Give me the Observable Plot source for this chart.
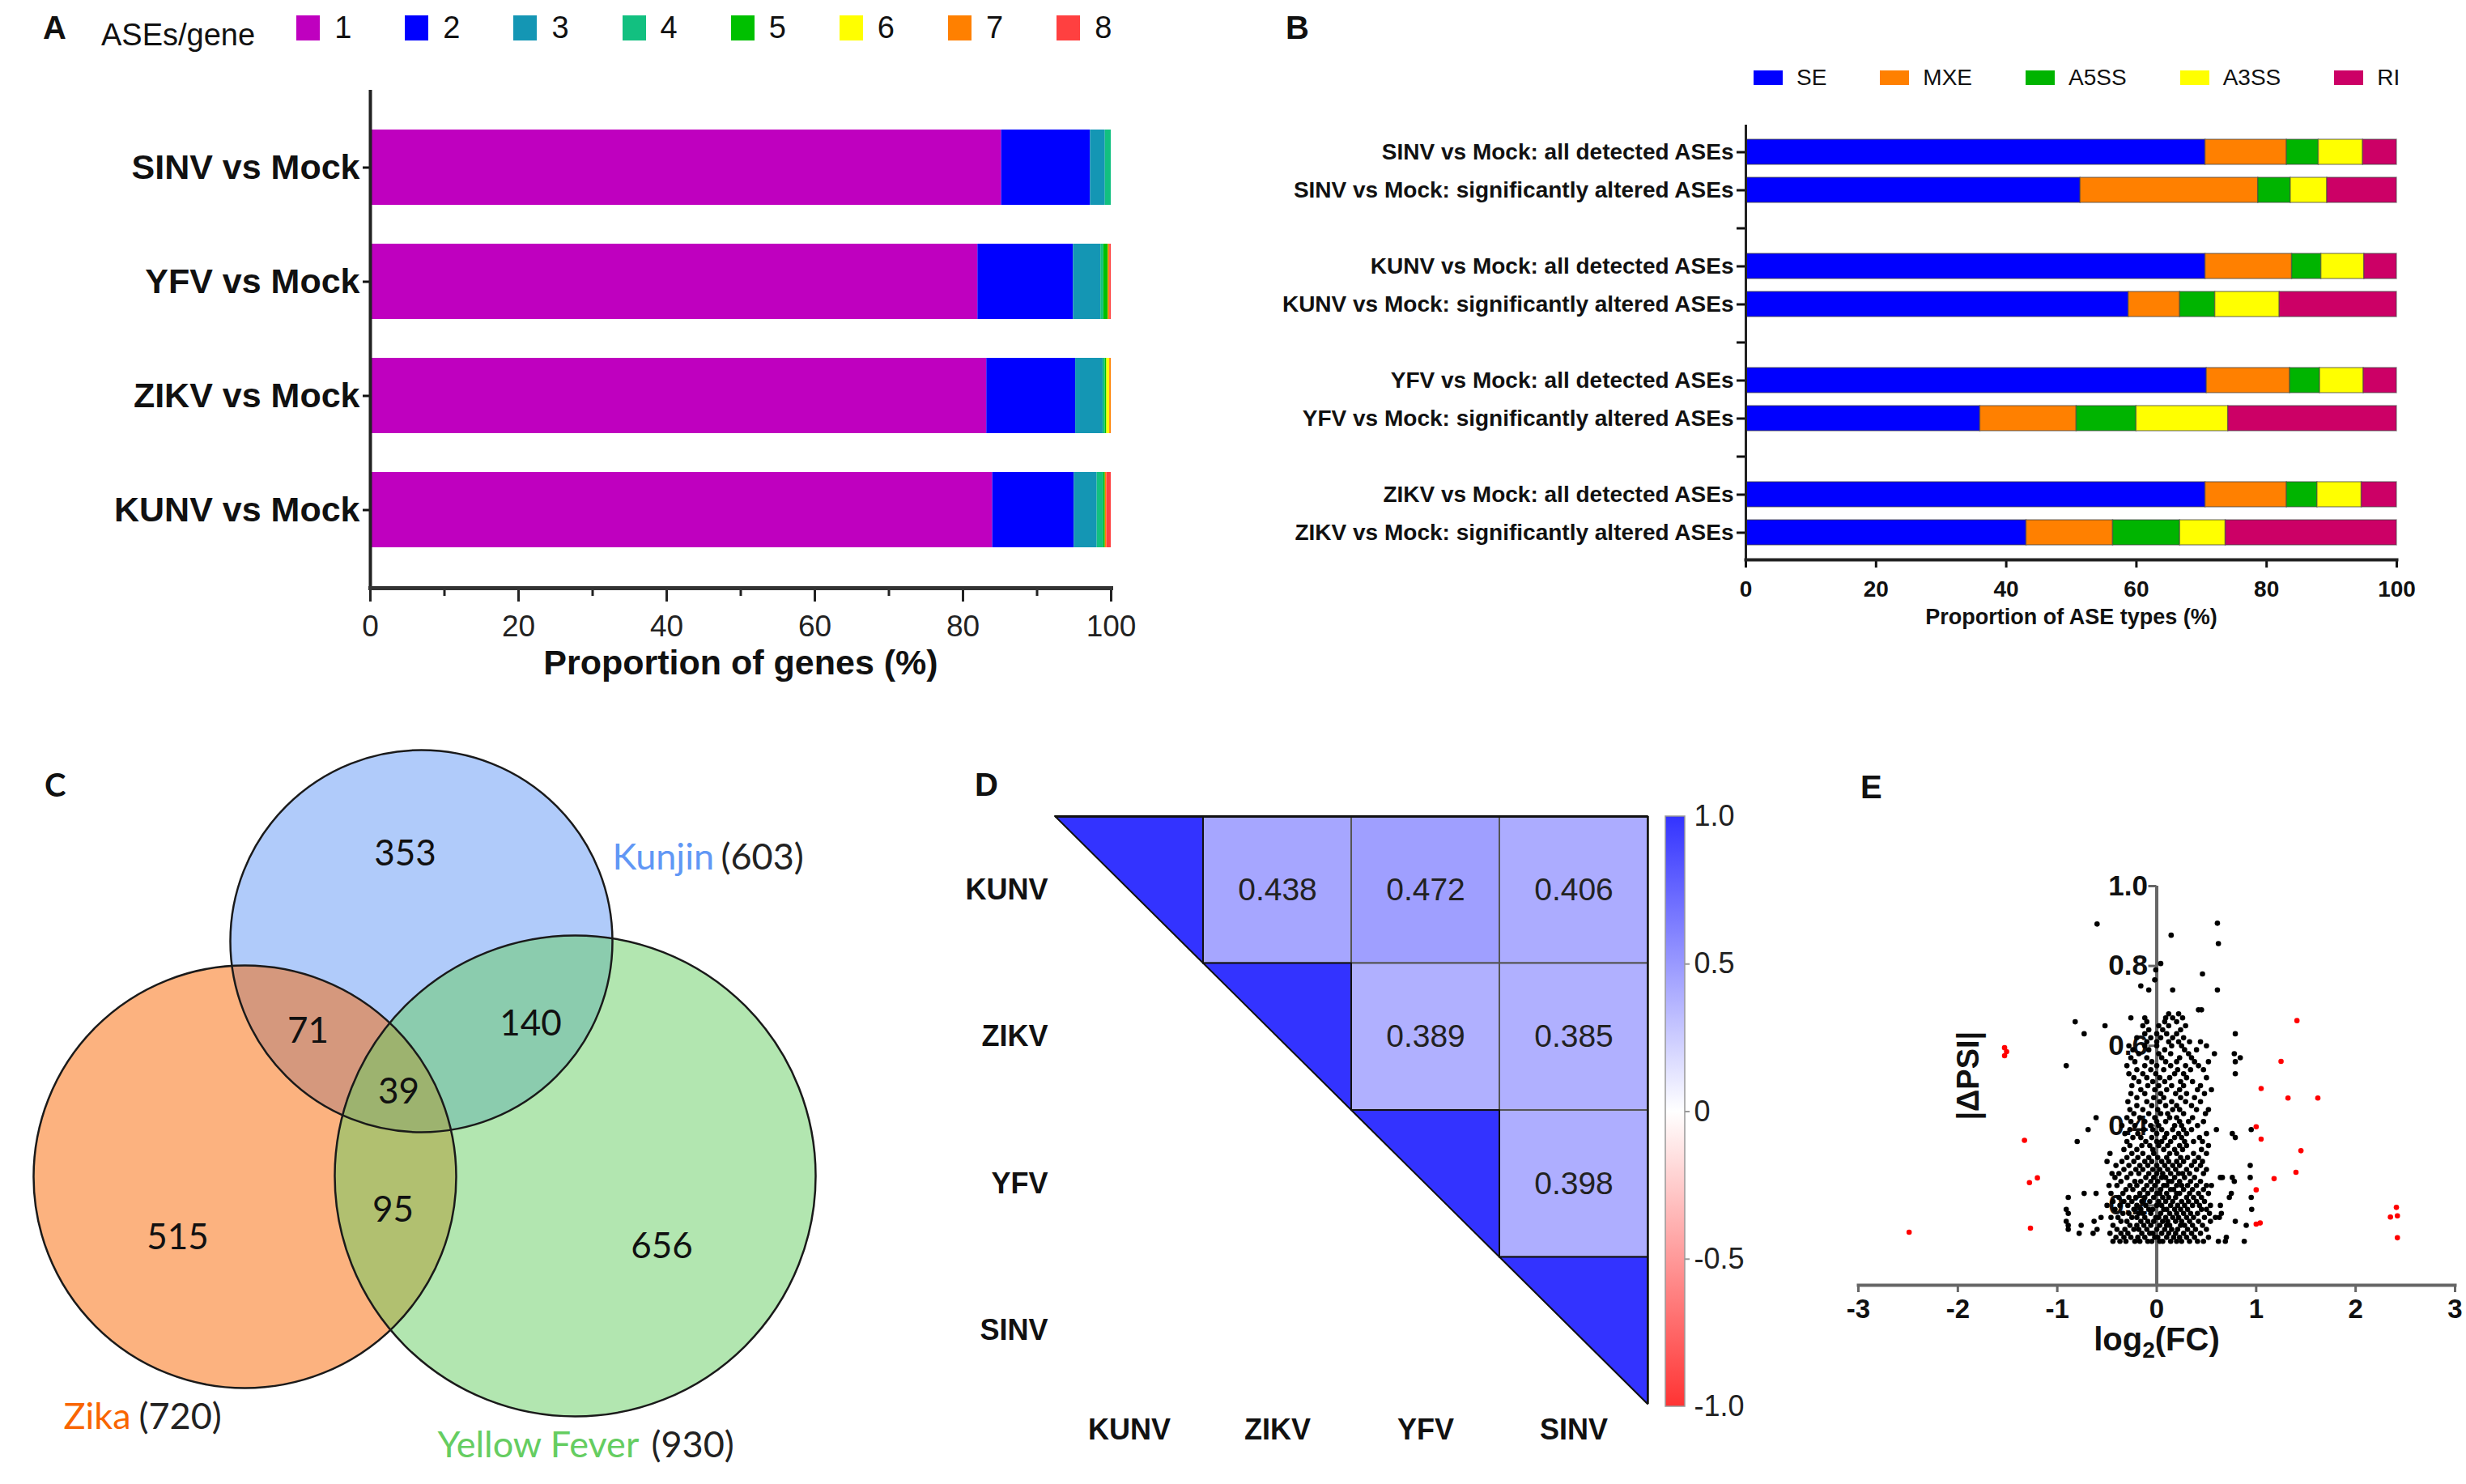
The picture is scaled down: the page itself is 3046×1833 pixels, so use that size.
<!DOCTYPE html>
<html><head><meta charset="utf-8">
<script src="https://cdn.jsdelivr.net/npm/d3@7"></script>
<script src="https://cdn.jsdelivr.net/npm/@observablehq/plot@0.6"></script>
<style>
html,body{margin:0;padding:0;background:#fff;}
#root{position:relative;width:3046px;height:1833px;overflow:hidden;font-family:"Liberation Sans",Arial,sans-serif;color:#111;}
.panel{position:absolute;}
.panel svg{overflow:visible;max-width:none;}
.leg{position:absolute;display:flex;align-items:center;white-space:nowrap;}
.sw{display:inline-block;}
</style></head>
<body><div id="root"></div>
<script>
// ---------------- DATA ----------------
// Panel A
const aConditions = ["SINV vs Mock", "YFV vs Mock", "ZIKV vs Mock", "KUNV vs Mock"];
const aseCounts = ["1", "2", "3", "4", "5", "6", "7", "8"];
const aColors = ["#bf00bf", "#0000ff", "#1496b4", "#12c080", "#00c000", "#ffff00", "#ff8000", "#ff4040"];
const aSINV = [85.2, 12.0, 2.0, 0.8, 0, 0, 0, 0];
const aYFV  = [82.0, 12.9, 3.7, 0.4, 0.6, 0, 0.2, 0.2];
const aZIKV = [83.2, 12.0, 3.7, 0.3, 0.2, 0.4, 0.2, 0];
const aKUNV = [84.0, 11.0, 3.1, 0.9, 0.2, 0, 0.2, 0.6];
const aTicks = [0, 20, 40, 60, 80, 100];
const aMinorTicks = [10, 30, 50, 70, 90];

// Panel B
const bTypes = ["SE", "MXE", "A5SS", "A3SS", "RI"];
const bColors = ["#0000ff", "#ff8000", "#00b400", "#ffff00", "#cc0066"];
const bRows = [
  "SINV vs Mock: all detected ASEs", "SINV vs Mock: significantly altered ASEs", "gap1",
  "KUNV vs Mock: all detected ASEs", "KUNV vs Mock: significantly altered ASEs", "gap2",
  "YFV vs Mock: all detected ASEs", "YFV vs Mock: significantly altered ASEs", "gap3",
  "ZIKV vs Mock: all detected ASEs", "ZIKV vs Mock: significantly altered ASEs"
];
const bSINVall = [70.6, 12.5, 4.9, 6.8, 5.2];
const bSINVsig = [51.4, 27.3, 5.0, 5.6, 10.7];
const bKUNVall = [70.6, 13.3, 4.5, 6.6, 5.0];
const bKUNVsig = [58.8, 7.9, 5.4, 9.9, 18.0];
const bYFVall  = [70.8, 12.8, 4.6, 6.7, 5.1];
const bYFVsig  = [36.0, 14.8, 9.2, 14.1, 25.9];
const bZIKVall = [70.6, 12.5, 4.7, 6.8, 5.4];
const bZIKVsig = [43.1, 13.3, 10.3, 7.0, 26.3];
const bTicks = [0, 20, 40, 60, 80, 100];

// Panel C (Venn)
const vennSets = ["Kunjin", "Zika", "Yellow Fever"];
const vennTotals = [603, 720, 930];
const vennColors = ["#6197f5", "#f96500", "#65cd61"];
const vennCounts = [353, 71, 140, 39, 95, 515, 656];

// Panel D (correlation)
const dNames = ["KUNV", "ZIKV", "YFV", "SINV"];
const dCorr = [
  [1, 0.438, 0.472, 0.406],
  [0.438, 1, 0.389, 0.385],
  [0.472, 0.389, 1, 0.398],
  [0.406, 0.385, 0.398, 1]
];
const dColorDomain = [-1, 0, 1];
const dColorRange = ["#ff3333", "#ffffff", "#3333ff"];
const dLegendTicks = [1, 0.5, 0, -0.5, -1];

// Panel E (scatter): [x = log2(FC), y = |dPSI|]
const eRed = [[1.41,0.663],[-1.53,0.595],[-1.51,0.585],[-1.53,0.575],[1.25,0.561],[1.05,0.493],[1.32,0.469],[1.62,0.469],[1.0,0.397],[1.05,0.366],[-1.33,0.363],[1.45,0.337],[1.4,0.283],[1.18,0.267],[-1.2,0.269],[-1.28,0.257],[1.0,0.239],[2.41,0.195],[2.35,0.171],[2.42,0.174],[2.42,0.119],[1.0,0.153],[1.04,0.156],[-1.27,0.143],[-2.49,0.133]];
const eBlackRows = [
[0.11,[-0.44,-0.37,-0.31,-0.22,-0.17,-0.09,-0.05,0.03,0.06,0.14,0.2,0.25,0.33,0.41,0.47,0.62,0.69,0.88]],
[0.12,[-0.41,-0.33,-0.26,-0.19,-0.12,-0.02,0.01,0.1,0.17,0.23,0.3,0.38,0.52,0.7]],
[0.13,[-0.47,-0.36,-0.29,-0.15,-0.07,-0.04,0.05,0.12,0.19,0.27,0.35,0.44,-0.64,-0.78]],
[0.14,[-0.4,-0.32,-0.23,-0.18,-0.1,0.0,0.08,0.15,0.21,0.31,0.39,0.5,-0.89,-0.6]],
[0.15,[-0.44,-0.27,-0.2,-0.13,-0.06,0.03,0.1,0.13,0.24,0.28,0.36,0.46,0.9,-0.89,-0.76]],
[0.16,[-0.36,-0.3,-0.16,-0.09,-0.03,0.06,0.11,0.19,0.25,0.33,0.42,0.79,0.54,-0.63,-0.91]],
[0.17,[-0.46,-0.39,-0.25,-0.2,-0.12,-0.01,0.02,0.09,0.16,0.22,0.3,0.37,0.48,0.63,-0.56,0.59]],
[0.18,[-0.34,-0.28,-0.18,-0.14,-0.06,0.04,0.13,0.2,0.27,0.34,0.41,0.53,-0.89,0.65]],
[0.19,[-0.42,-0.23,-0.16,-0.08,-0.04,0.07,0.1,0.18,0.24,0.31,0.45,0.955,0.5,-0.91]],
[0.20,[-0.37,-0.29,-0.2,-0.11,0.0,0.05,0.14,0.21,0.28,0.36,0.43,-0.5,0.64,0.54]],
[0.21,[-0.44,-0.33,-0.25,-0.15,-0.07,0.02,0.09,0.16,0.25,0.32,0.4,0.48]],
[0.22,[-0.38,-0.28,-0.21,-0.12,-0.03,0.06,0.12,0.19,0.3,0.37,0.45,-0.89,0.73,0.95]],
[0.23,[-0.46,-0.34,-0.17,-0.09,0.0,0.03,0.1,0.2,0.23,0.33,0.42,0.52,-0.73,-0.61,0.75]],
[0.24,[-0.31,-0.24,-0.13,-0.05,0.04,0.14,0.17,0.27,0.36,0.47]],
[0.25,[-0.48,-0.4,-0.27,-0.2,-0.1,-0.02,0.07,0.1,0.2,0.25,0.31,0.4,0.5,0.55]],
[0.26,[-0.36,-0.22,-0.16,-0.06,0.01,0.12,0.15,0.23,0.34,0.44,0.78]],
[0.27,[-0.42,-0.3,-0.11,-0.03,0.05,0.09,0.18,0.28,0.38,0.66,0.94,0.76,0.64]],
[0.28,[-0.45,-0.38,-0.26,-0.18,-0.08,0.0,0.06,0.14,0.22,0.26,0.33,0.47]],
[0.29,[-0.33,-0.21,-0.14,-0.04,0.03,0.11,0.19,0.3,0.4,0.5]],
[0.30,[-0.41,-0.28,-0.17,-0.09,0.0,0.08,0.16,0.23,0.35,0.44,0.94]],
[0.31,[-0.5,-0.35,-0.23,-0.12,-0.05,0.05,0.12,0.2,0.27,0.38,0.46]],
[0.32,[-0.3,-0.19,-0.08,0.01,0.1,0.24,0.31,0.42]],
[0.33,[-0.47,-0.25,-0.14,-0.03,0.13,0.2,0.37,0.5]],
[0.34,[-0.33,-0.2,-0.04,0.07,0.18,0.26,0.45]],
[0.35,[-0.27,-0.15,-0.07,0.02,0.11,0.23,0.3,0.52]],
[0.36,[-0.3,-0.11,0.0,0.05,0.14,0.28,0.37,0.46,-0.8]],
[0.37,[-0.24,-0.16,-0.05,0.08,0.18,0.25,0.43,0.79]],
[0.38,[-0.32,-0.19,0.0,0.1,0.22,0.3,0.5,0.76]],
[0.39,[-0.27,-0.13,-0.04,0.05,0.16,0.27,0.35,-0.69,0.95,0.6]],
[0.40,[-0.35,-0.22,-0.06,0.02,0.18,0.25,0.41]],
[0.41,[-0.26,-0.12,0.0,0.09,0.23,0.32,0.47]],
[0.42,[-0.3,-0.17,-0.02,0.13,0.2,0.36,-0.61]],
[0.43,[-0.23,-0.08,0.04,0.11,0.27,0.49]],
[0.44,[-0.27,-0.14,0.01,0.16,0.23,0.4,0.52]],
[0.45,[-0.2,-0.05,0.09,0.2,0.35]],
[0.46,[-0.29,-0.1,0.03,0.15,0.29,0.44]],
[0.47,[-0.2,-0.03,0.07,0.24,0.38]],
[0.48,[-0.26,-0.12,0.04,0.19,0.3,0.48]],
[0.49,[-0.16,-0.02,0.1,0.23,0.41,0.55]],
[0.50,[-0.25,-0.09,0.02,0.15,0.27,0.44]],
[0.51,[-0.18,-0.04,0.08,0.24,0.36]],
[0.52,[-0.23,-0.1,0.03,0.13,0.3,0.5]],
[0.53,[-0.28,-0.14,-0.01,0.18,0.27,0.79]],
[0.54,[-0.2,-0.06,0.07,0.21,0.34,0.47]],
[0.55,[-0.3,-0.12,0.0,0.14,0.29,0.42,-0.91]],
[0.56,[-0.22,-0.05,0.09,0.2,0.38,0.79,0.52]],
[0.57,[-0.26,-0.1,0.05,0.23,0.35,0.84]],
[0.58,[-0.18,0.02,0.14,0.32,0.58,0.78]],
[0.59,[-0.24,-0.08,0.08,0.28,0.4]],
[0.60,[-0.28,-0.12,0.0,0.15,0.25,0.5]],
[0.61,[-0.1,0.0,0.12,0.22,0.33,0.44]],
[0.62,[-0.2,-0.06,0.04,0.16,0.27]],
[0.63,[-0.12,0.0,0.1,0.2,-0.73,0.79]],
[0.64,[-0.08,0.06,0.24]],
[0.65,[-0.52,-0.14,0.02,0.12,0.29]],
[0.66,[-0.82,-0.1,0.08,0.2]],
[0.67,[-0.26,-0.12,0.09,0.16,0.26]],
[0.68,[0.12,0.22]],
[0.69,[0.45,0.42]],
[0.74,[-0.08,0.16,0.61]],
[0.75,[-0.16]],
[0.765,[-0.02]],
[0.78,[0.46]],
[0.79,[-0.01]],
[0.806,[0.04]],
[0.856,[0.62]],
[0.877,[0.145]],
[0.905,[-0.6]],
[0.907,[0.61]]
];
const eXTicks = [-3, -2, -1, 0, 1, 2, 3];
const eYTicks = [0.2, 0.4, 0.6, 0.8, 1.0];

// ---------------- LAYOUT HELPERS ----------------
const FONT = '"Liberation Sans", Arial, sans-serif';
const CAL = 'Lato, "Liberation Sans", sans-serif';
const root = document.getElementById("root");
function place(node, left, top, w, h) {
  const d = document.createElement("div");
  d.className = "panel";
  d.style.left = left + "px"; d.style.top = top + "px";
  d.style.width = w + "px"; d.style.height = h + "px";
  d.append(node); root.append(d); return d;
}
function label(text, left, yc, size, weight, family) {
  const d = document.createElement("div");
  d.style.cssText = `position:absolute;left:${left}px;top:${yc - size / 2}px;font-size:${size}px;line-height:${size}px;font-weight:${weight};white-space:nowrap;font-family:${family || FONT};color:#111`;
  d.textContent = text; root.append(d); return d;
}
function legend(items, left, yc, o) {
  const d = document.createElement("div");
  d.className = "leg";
  d.style.left = left + "px"; d.style.top = (yc - o.h / 2) + "px"; d.style.height = o.h + "px";
  d.style.gap = o.gap + "px"; d.style.fontSize = o.size + "px"; d.style.fontFamily = FONT;
  if (o.title) {
    const t = document.createElement("span");
    t.textContent = o.title; t.style.marginRight = (o.titleGap - o.gap) + "px"; t.style.position = "relative"; t.style.top = o.titleShift + "px";
    d.append(t);
  }
  items.forEach(([name, color]) => {
    const it = document.createElement("span"); it.style.display = "flex"; it.style.alignItems = "center";
    const s = document.createElement("span"); s.className = "sw";
    s.style.width = o.sw + "px"; s.style.height = o.sh + "px"; s.style.background = color;
    const t = document.createElement("span"); t.textContent = name; t.style.marginLeft = o.lg + "px";
    it.append(s, t); d.append(it);
  });
  root.append(d);
}
const baseStyle = {fontFamily: FONT, background: "transparent", overflow: "visible", color: "#111"};

// ---------------- PANEL A ----------------
const aValues = [aSINV, aYFV, aZIKV, aKUNV];
const dataA = [];
aConditions.forEach((c, i) => aseCounts.forEach((n, k) => dataA.push({cond: c, n, value: aValues[i][k]})));
const plotA = Plot.plot({
  width: 1500, height: 880, marginLeft: 457, marginRight: 128, marginTop: 111, marginBottom: 154,
  style: baseStyle,
  x: {domain: [0, 100]},
  y: {domain: aConditions, padding: 0.34},
  color: {domain: aseCounts, range: aColors},
  marks: [
    Plot.barX(dataA, Plot.stackX({x: "value", y: "cond", fill: "n"})),
    Plot.axisY({tickSize: 9, tickPadding: 4, fontSize: 43, fontWeight: "bold", color: "#111", strokeWidth: 3, label: null}),
    Plot.axisX({ticks: aTicks, tickSize: 17, tickPadding: 16, fontSize: 37, color: "#222", strokeWidth: 3, label: null, tickFormat: d => String(d)}),
    Plot.axisX({ticks: aMinorTicks, tickSize: 10, color: "#222", strokeWidth: 3, label: null, tickFormat: () => ""}),
    Plot.ruleX([0], {stroke: "#222", strokeWidth: 4}),
    Plot.frame({anchor: "bottom", stroke: "#333", strokeWidth: 5}),
    Plot.text(["Proportion of genes (%)"], {frameAnchor: "bottom", dy: 106, text: d => d, fontSize: 43, fontWeight: "bold", fill: "#111"})
  ]
});
place(plotA, 0, 0, 1500, 880);
label("A", 53, 34, 40, "bold");
legend(aseCounts.map((n, i) => [n, aColors[i]]), 125, 34, {h: 50, gap: 66, size: 38, sw: 29, sh: 31, lg: 18, title: "ASEs/gene", titleGap: 51, titleShift: 9});

// ---------------- PANEL B ----------------
const bValues = [bSINVall, bSINVsig, null, bKUNVall, bKUNVsig, null, bYFVall, bYFVsig, null, bZIKVall, bZIKVsig];
const dataB = [];
bRows.forEach((r, i) => { if (bValues[i]) bTypes.forEach((t, k) => dataB.push({row: r, type: t, value: bValues[i][k]})); });
const plotB = Plot.plot({
  width: 1496, height: 820, marginLeft: 606, marginRight: 86, marginTop: 154, marginBottom: 129,
  style: baseStyle,
  x: {domain: [0, 100]},
  y: {domain: bRows, padding: 0.35},
  color: {domain: bTypes, range: bColors},
  marks: [
    Plot.barX(dataB, Plot.stackX({x: "value", y: "row", fill: "type", stroke: "#444", strokeOpacity: 0.55, strokeWidth: 1.5})),
    Plot.axisY({tickSize: 11, tickPadding: 4, fontSize: 28, fontWeight: "bold", color: "#111", strokeWidth: 3, label: null, tickFormat: d => d.startsWith("gap") ? "" : d}),
    Plot.axisX({ticks: bTicks, tickSize: 10, tickPadding: 16, fontSize: 28, fontWeight: "bold", color: "#111", strokeWidth: 3, label: null, tickFormat: d => String(d)}),
    Plot.ruleX([0], {stroke: "#222", strokeWidth: 3}),
    Plot.frame({anchor: "bottom", stroke: "#222", strokeWidth: 4}),
    Plot.text(["Proportion of ASE types (%)"], {frameAnchor: "bottom", dy: 79, text: d => d, fontSize: 27, fontWeight: "bold", fill: "#111"})
  ]
});
place(plotB, 1550, 0, 1496, 820);
label("B", 1588, 34, 40, "bold");
legend(bTypes.map((t, i) => [t, bColors[i]]), 2166, 96, {h: 34, gap: 66, size: 28, sw: 36, sh: 18, lg: 17});

// ---------------- PANEL C (Venn) ----------------
// layout of the diagram (units of 100 px within the panel)
const vennCircles = [
  {set: "Kunjin", cx: 5.20, cy: 2.62, r: 2.36},
  {set: "Zika", cx: 3.02, cy: 5.53, r: 2.61},
  {set: "Yellow Fever", cx: 7.10, cy: 5.52, r: 2.97}
];
const vennCountPos = [[5.00, 1.54], [3.80, 3.73], [6.55, 3.64], [4.92, 4.48], [4.85, 5.94], [2.19, 6.28], [8.17, 6.39]];
const vennNamePos = [[7.56, 1.59], [0.78, 8.50], [5.40, 8.85]];
const vennTotalPos = [[8.90, 1.59], [1.71, 8.50], [8.04, 8.85]];
const plotC = Plot.plot({
  width: 1100, height: 933, margin: 0,
  style: {...baseStyle, fontFamily: CAL},
  x: {domain: [0, 11], axis: null},
  y: {domain: [0, 9.33], range: [0, 933], axis: null},
  r: {type: "linear", domain: [0, 1], range: [0, 100]},
  color: {domain: vennSets, range: vennColors},
  marks: [
    Plot.dot(vennCircles, {x: "cx", y: "cy", r: "r", fill: "set", fillOpacity: 0.5, sort: null}),
    Plot.dot(vennCircles, {x: "cx", y: "cy", r: "r", stroke: "#1a1a1a", strokeWidth: 2.5, fill: "none", sort: null}),
    Plot.text(vennCounts, {x: (d, i) => vennCountPos[i][0], y: (d, i) => vennCountPos[i][1], text: d => String(d), fontSize: 44, fill: "#111"}),
    Plot.text(vennSets, {x: (d, i) => vennNamePos[i][0], y: (d, i) => vennNamePos[i][1], text: d => d, fill: (d, i) => vennSets[i], textAnchor: "start", fontSize: 45}),
    Plot.text(vennTotals, {x: (d, i) => vennTotalPos[i][0], y: (d, i) => vennTotalPos[i][1], text: d => `(${d})`, textAnchor: "start", fontSize: 45, fill: "#222"})
  ]
});
place(plotC, 0, 900, 1100, 933);
label("C", 55, 969, 40, "bold", CAL);

// ---------------- PANEL D (correlation heatmap) ----------------
const upper = [], diag = [];
dNames.forEach((r, i) => dNames.forEach((c, j) => { if (j > i) upper.push({row: i, col: j, v: dCorr[i][j]}); }));
dNames.forEach((n, i) => { diag.push({k: i, x: i, y1: i, y2: i, v: dCorr[i][i]}, {k: i, x: i + 1, y1: i, y2: i + 1, v: dCorr[i][i]}); });
const plotD = Plot.plot({
  width: 900, height: 933, marginLeft: 153, marginRight: 15, marginTop: 108, marginBottom: 99,
  style: baseStyle,
  x: {domain: [0, 4], axis: null},
  y: {domain: [0, 4], reverse: true, axis: null},
  color: {type: "linear", domain: dColorDomain, range: dColorRange, interpolate: "rgb"},
  marks: [
    Plot.rect(upper, {x1: "col", x2: d => d.col + 1, y1: "row", y2: d => d.row + 1, fill: "v", stroke: "#555", strokeWidth: 2}),
    Plot.areaY(diag, {x: "x", y1: "y1", y2: "y2", z: "k", fill: "v", stroke: "#111", strokeWidth: 2}),
    Plot.ruleY([0], {x1: 0, x2: 4, stroke: "#111", strokeWidth: 3}),
    Plot.ruleX([4], {y1: 0, y2: 4, stroke: "#111", strokeWidth: 2.5}),
    Plot.text(upper, {x: d => d.col + 0.5, y: d => d.row + 0.5, text: d => d.v.toFixed(3), fontSize: 39, fill: "#222"}),
    Plot.text(dNames, {x: 0, y: (d, i) => i + 0.5, dx: -9, textAnchor: "end", text: d => d, fontSize: 36, fontWeight: "bold", fill: "#111"}),
    Plot.text(dNames, {x: (d, i) => i + 0.5, y: 4, dy: 32, text: d => d, fontSize: 36, fontWeight: "bold", fill: "#111"})
  ]
});
place(plotD, 1150, 900, 900, 933);
label("D", 1204, 969, 40, "bold");

// colour bar
const plotDL = Plot.plot({
  width: 140, height: 933, marginLeft: 17, marginRight: 99, marginTop: 108, marginBottom: 96,
  style: baseStyle,
  x: {domain: [0, 1], axis: null},
  y: {domain: [-1, 1], axis: null},
  marks: [
    () => {
      const defs = d3.create("svg:defs");
      const g = defs.append("linearGradient").attr("id", "dgrad").attr("x1", 0).attr("y1", 0).attr("x2", 0).attr("y2", 1);
      g.append("stop").attr("offset", "0%").attr("stop-color", dColorRange[2]);
      g.append("stop").attr("offset", "50%").attr("stop-color", dColorRange[1]);
      g.append("stop").attr("offset", "100%").attr("stop-color", dColorRange[0]);
      return defs.node();
    },
    Plot.rect([dColorDomain], {x1: 0, x2: 1, y1: d => d[0], y2: d => d[2], fill: "url(#dgrad)", stroke: "#999", strokeWidth: 1.5}),
    Plot.ruleY(dLegendTicks.slice(1, 4), {x1: 1, x2: 1, insetRight: -6, stroke: "#999", strokeWidth: 2}),
    Plot.text(dLegendTicks, {x: 1, y: d => d, dx: 11, textAnchor: "start", text: d => d === 0 ? "0" : d.toFixed(1), fontSize: 36, fill: "#222"})
  ]
});
place(plotDL, 2040, 900, 140, 933);

// ---------------- PANEL E (scatter) ----------------
const eBlack = eBlackRows.flatMap(([y, xs]) => xs.map(x => ({x, y})));
const eRedPts = eRed.map(([x, y]) => ({x, y}));
const plotE = Plot.plot({
  width: 796, height: 933, marginLeft: 45, marginRight: 14, marginTop: 194, marginBottom: 246,
  style: baseStyle,
  x: {domain: [-3, 3]},
  y: {domain: [0, 1], axis: null},
  marks: [
    Plot.ruleX([0], {y1: 0, y2: 1, stroke: "#666", strokeWidth: 4}),
    Plot.ruleY(eYTicks, {x1: 0, x2: 0, insetLeft: -10, stroke: "#666", strokeWidth: 3}),
    Plot.text(eYTicks, {x: 0, y: d => d, dx: -11, textAnchor: "end", text: d => d.toFixed(1), fontSize: 35, fontWeight: "bold", fill: "#111"}),
    Plot.dot(eBlack, {x: "x", y: "y", r: 3.3, fill: "#000"}),
    Plot.dot(eRedPts, {x: "x", y: "y", r: 3.3, fill: "#ff0000"}),
    Plot.axisX({ticks: eXTicks, tickSize: 9, tickPadding: 8, fontSize: 33, fontWeight: "bold", color: "#111", stroke: "#666", strokeWidth: 3, label: null, tickFormat: d => String(d)}),
    Plot.frame({anchor: "bottom", stroke: "#666", strokeWidth: 4}),
    Plot.text(["log2(FC)"], {frameAnchor: "bottom", dy: 80, text: d => d, fontSize: 40, fontWeight: "bold", fill: "#111"}),
    Plot.text(["|ΔPSI|"], {x: -1.89, y: 0.525, rotate: -90, text: d => d, fontSize: 38, fontWeight: "bold", fill: "#111"})
  ]
});
// subscript 2 in the x title
plotE.querySelectorAll("text").forEach(t => {
  if (t.textContent === "log2(FC)") {
    t.textContent = "";
    const ns = "http://www.w3.org/2000/svg";
    const a = document.createElementNS(ns, "tspan"); a.textContent = "log";
    const b = document.createElementNS(ns, "tspan"); b.textContent = "2"; b.setAttribute("dy", "9"); b.setAttribute("font-size", "28");
    const c = document.createElementNS(ns, "tspan"); c.textContent = "(FC)"; c.setAttribute("dy", "-9");
    t.append(a, b, c);
  }
});
place(plotE, 2250, 900, 796, 933);
label("E", 2298, 972, 40, "bold");
</script></body></html>
